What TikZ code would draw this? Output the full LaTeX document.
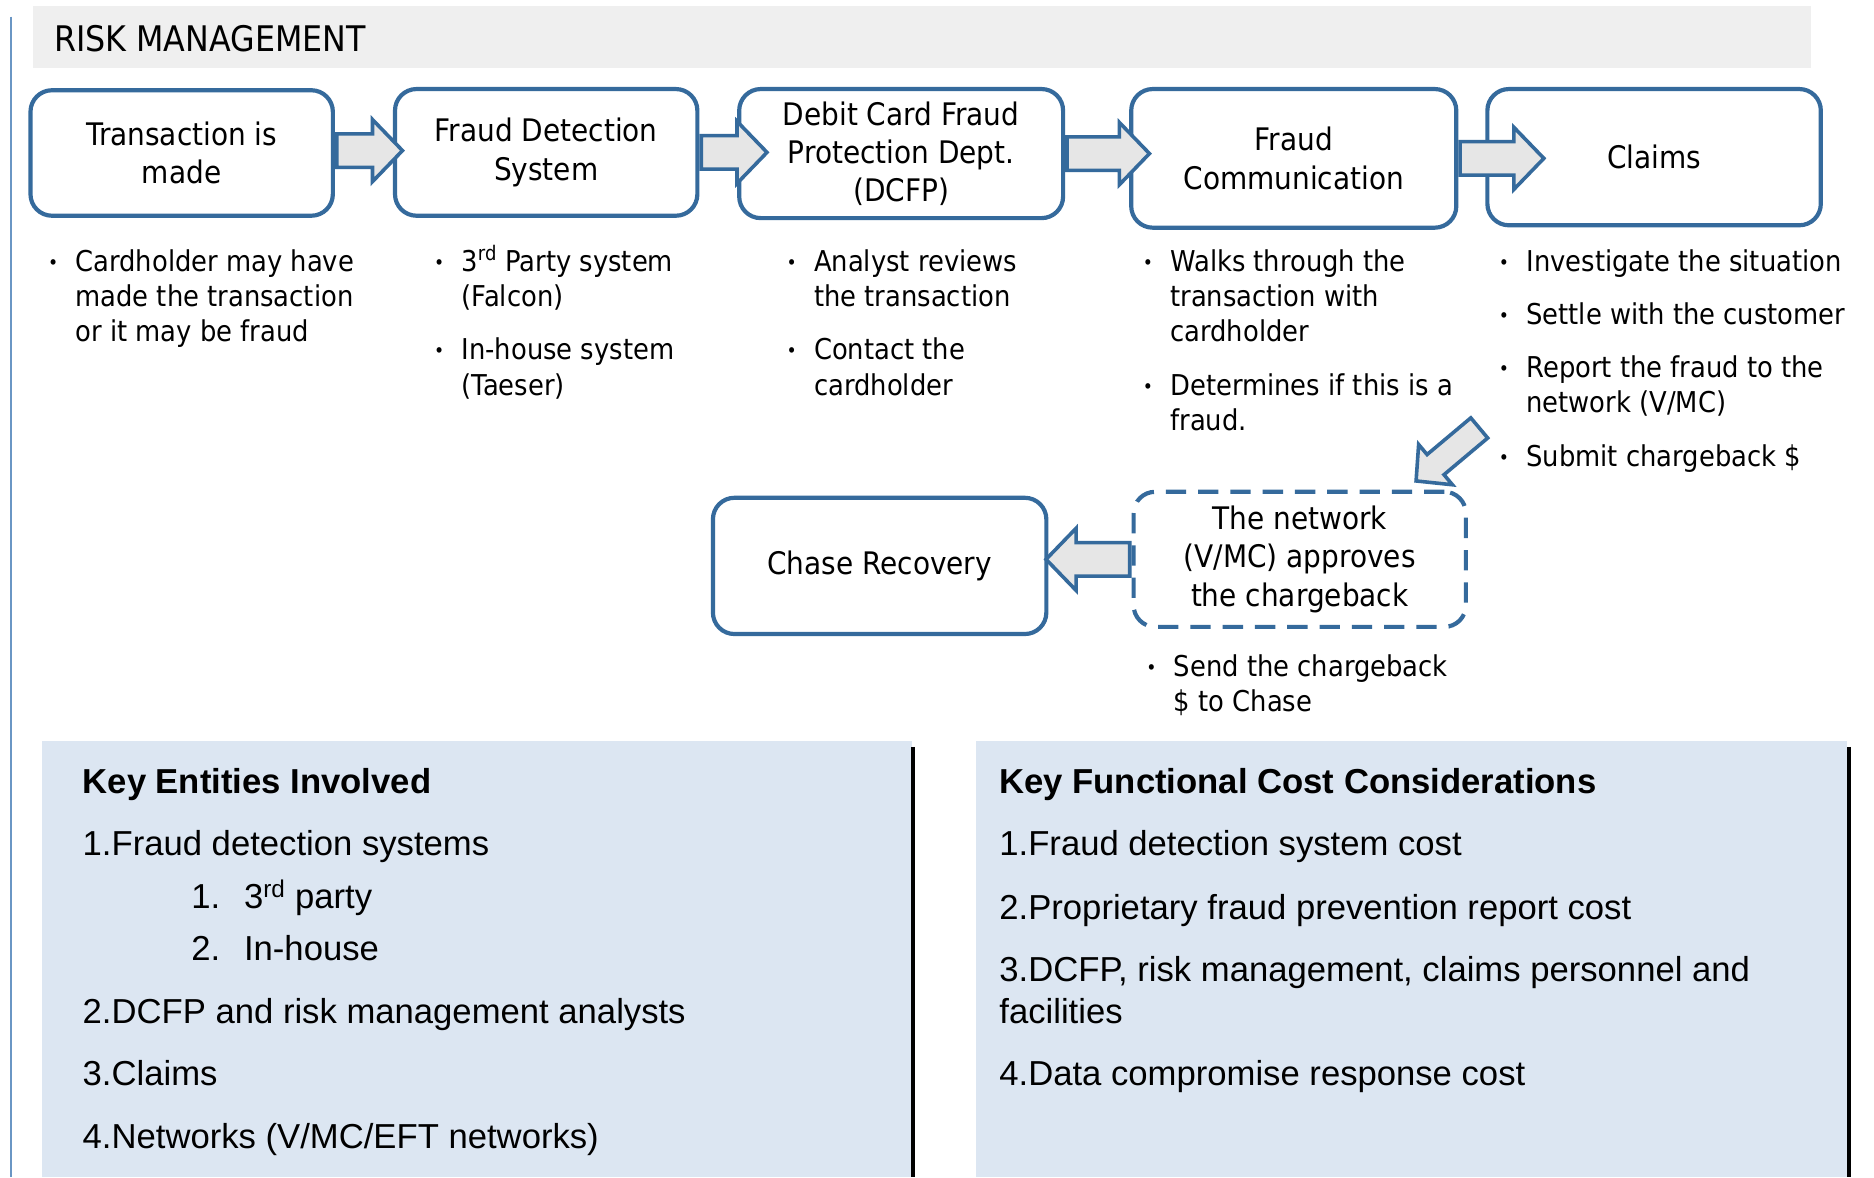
\documentclass[tikz,border=0pt]{standalone}
\usepackage{fontspec}
\setmainfont{DejaVu Sans}[FakeStretch=0.9]
\newfontfamily\arialf{Liberation Sans}
\usetikzlibrary{shapes.arrows,calc}
\definecolor{bblue}{HTML}{356A9C}
\definecolor{agray}{HTML}{E6E6E6}
\definecolor{titlegray}{HTML}{EFEFEF}
\definecolor{panelblue}{HTML}{DCE6F2}
\definecolor{leftblue}{HTML}{6A96C4}
\newcommand{\bul}{\makebox[23pt][l]{\fontsize{16}{16}\selectfont\raisebox{1.5pt}{•}}}
\tikzset{
  stepbox/.style={draw=bblue, line width=3.5pt, rounded corners=18pt, fill=white,
    align=center, font=\fontsize{26}{32}\selectfont, inner sep=0pt},
  dashbox/.style={stepbox, dash pattern=on 17pt off 10pt},
  blk/.style={single arrow, draw=bblue, fill=agray, line width=3pt,
    single arrow head extend=12pt, single arrow tip angle=92,
    minimum width=52pt, inner xsep=0pt, inner ysep=12.5pt},
  btxt/.style={anchor=base west, inner sep=0pt, font=\fontsize{24}{29.5}\selectfont},
  ptxt/.style={anchor=base west, inner sep=0pt, align=left, font=\arialf\fontsize{29}{35}\selectfont},
  pbold/.style={ptxt, font=\arialf\bfseries\fontsize{29}{35}\selectfont},
}
\begin{document}
\begin{tikzpicture}[x=1pt,y=-1pt]
\useasboundingbox (0,0) rectangle (1568,985);
\fill[white] (0,0) rectangle (1568,985);
% frame and title
\draw[leftblue, line width=1.5pt] (9,14) -- (9,985);
\fill[titlegray] (28,5) rectangle (1515,57);
\node[anchor=base west, inner sep=0pt, font=\fontsize{29.5}{35}\selectfont] (title) at (45,43.5) {RISK MANAGEMENT};

% process boxes
\node[stepbox, minimum width=253pt, minimum height=105pt] (b1) at (152,128) {Transaction is\\made};
\node[stepbox, minimum width=253pt, minimum height=106pt] (b2) at (457,127.5) {Fraud Detection\\System};
\node[stepbox, minimum width=271pt, minimum height=108pt] (b3) at (754,128.5) {Debit Card Fraud\\Protection Dept.\\(DCFP)};
\node[stepbox, minimum width=272pt, minimum height=116pt] (b4) at (1082.5,132.5) {Fraud\\Communication};
\node[stepbox, minimum width=279pt, minimum height=114pt] (b5) at (1384,131.5) {Claims};
\node[stepbox, minimum width=279pt, minimum height=114pt] (chase) at (736,473.5) {Chase Recovery};
\node[dashbox, minimum width=278pt, minimum height=113pt] (net) at (1087.5,468) {The network\\(V/MC) approves\\the chargeback};

% block arrows
\node[blk, minimum height=55pt, anchor=tail] (a1) at ($(b1.east)+(0,-2)$) {};
\node[blk, minimum height=55pt, anchor=tail] (a2) at (b2.east) {};
\node[blk, minimum height=69pt, anchor=tail] (a3) at (b3.east) {};
\node[blk, minimum height=70pt, anchor=tail] (a4) at (b4.east) {};
\node[blk, minimum height=70pt, rotate=180, anchor=tail] (a5) at (net.west) {};
\node[blk, minimum height=69pt, minimum width=44pt, inner ysep=9.5pt, single arrow head extend=11pt, rotate=220, anchor=tip] (a6) at ($(net.north east)+(-45,-6)$) {};

% bullet texts
\node[btxt] (t1) at (40,227) {\begin{tabular}[t]{@{}l@{}l@{}}
\bul & Cardholder may have\\ & made the transaction\\ & or it may be fraud\end{tabular}};
\node[btxt] (t2) at (363,227) {\begin{tabular}[t]{@{}l@{}l@{}}
\bul & 3\textsuperscript{rd} Party system\\ & (Falcon)\\[15pt]
\bul & In-house system\\ & (Taeser)\end{tabular}};
\node[btxt] (t3) at (658,227) {\begin{tabular}[t]{@{}l@{}l@{}}
\bul & Analyst reviews\\ & the transaction\\[15pt]
\bul & Contact the\\ & cardholder\end{tabular}};
\node[btxt] (t4) at (956,227) {\begin{tabular}[t]{@{}l@{}l@{}}
\bul & Walks through the\\ & transaction with\\ & cardholder\\[15pt]
\bul & Determines if this is a\\ & fraud.\end{tabular}};
\node[btxt] (t5) at (1254,227) {\begin{tabular}[t]{@{}l@{}l@{}}
\bul & Investigate the situation\\[15pt]
\bul & Settle with the customer\\[15pt]
\bul & Report the fraud to the\\ & network (V/MC)\\[15pt]
\bul & Submit chargeback \$\end{tabular}};
\node[btxt] (t6) at (959,566) {\begin{tabular}[t]{@{}l@{}l@{}}
\bul & Send the chargeback\\ & \$ to Chase\end{tabular}};

% bottom panels
\fill[panelblue] (35,620) rectangle (763,985);
\fill[panelblue] (817,620) rectangle (1545,985);
\draw[black, line width=3pt] (764,625) -- (764,985);
\draw[black, line width=3pt] (1547,625) -- (1547,985);

\node[pbold] (kh1) at (69,664) {Key Entities Involved};
\node[ptxt] (k11) at (69,716) {1.Fraud detection systems};
\node[ptxt] (k12) at (160,760) {\makebox[44pt][l]{1.}3\textsuperscript{rd} party};
\node[ptxt] (k13) at (160,804) {\makebox[44pt][l]{2.}In-house};
\node[ptxt] (k14) at (69,856) {2.DCFP and risk management analysts};
\node[ptxt] (k15) at (69,908) {3.Claims};
\node[ptxt] (k16) at (69,961) {4.Networks (V/MC/EFT networks)};

\node[pbold] (kh2) at (836,664) {Key Functional Cost Considerations};
\node[ptxt] (k21) at (836,716) {1.Fraud detection system cost};
\node[ptxt] (k22) at (836,769) {2.Proprietary fraud prevention report cost};
\node[ptxt] (k23) at (836,856) {3.DCFP, risk management, claims personnel and\\facilities};
\node[ptxt] (k24) at (836,908) {4.Data compromise response cost};
\end{tikzpicture}
\end{document}
